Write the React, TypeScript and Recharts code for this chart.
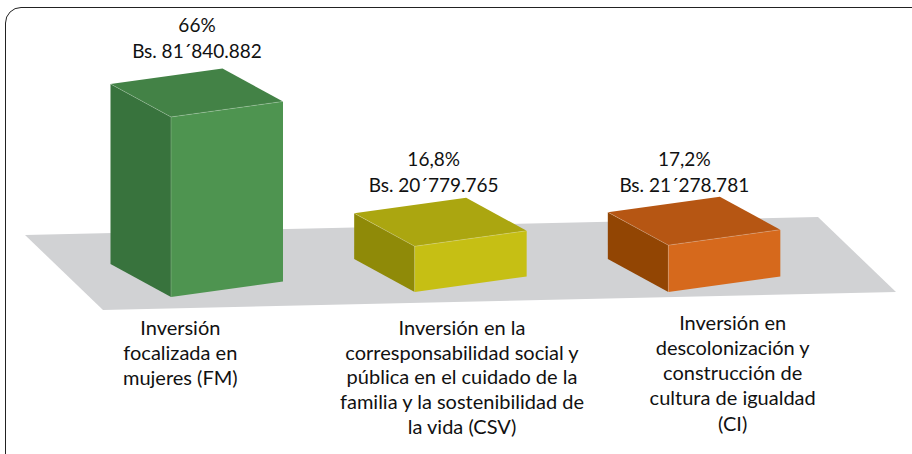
import React from 'react';
import { BarChart, Bar, XAxis, YAxis, LabelList, Cell } from 'recharts';

// values
const categories = ['FM', 'CSV', 'CI'];
const amounts = [81840882, 20779765, 21278781];
const percentLabels = ['66%', '16,8%', '17,2%'];
const amountLabels = ['Bs. 81´840.882', 'Bs. 20´779.765', 'Bs. 21´278.781'];
const categoryLines = [
  ['Inversión', 'focalizada en', 'mujeres (FM)'],
  ['Inversión en la', 'corresponsabilidad social y', 'pública en el cuidado de la', 'familia y la sostenibilidad de', 'la vida (CSV)'],
  ['Inversión en', 'descolonización y', 'construcción de', 'cultura de igualdad', '(CI)'],
];

const chartData = categories.map((name, i) => ({ name, amount: amounts[i] }));

// face colours per bar
const frontColors = ['#4E9450', '#C6BF14', '#D6691C'];
const sideColors = ['#38733D', '#8F8A08', '#924503'];
const topColors = ['#438246', '#ABA610', '#B65613'];

// the picture is a hand placed 3D drawing, these shift things off the even band layout
const barShiftX = [0, -5, 0];
const barShiftY = [0, -5, -5];
const labelShiftX = [-30, -42, -40];
const labelShiftY = [-65, -60.5, -59.5];
const tickShiftX = [-47, -14, 8];
const tickStartY = [328.5, 329, 323.5];
const tickStep = [25, 24.7, 25.3];

const FONT = 'Lato, sans-serif';

const Box3D = (props: any) => {
  const { x, y, width, height, index } = props;
  const fx = x + barShiftX[index];
  const fy = y + barShiftY[index];
  const rx = fx + width;
  const rise = 15.5;
  const backX = 60.5;
  const backY = 33;
  const top = `${fx},${fy} ${rx},${fy - rise} ${rx - backX},${fy - rise - backY} ${fx - backX},${fy - backY}`;
  const side = `${fx},${fy} ${fx},${fy + height} ${fx - backX},${fy + height - backY} ${fx - backX},${fy - backY}`;
  const front = `${fx},${fy} ${rx},${fy - rise} ${rx},${fy + height - rise} ${fx},${fy + height}`;
  return (
    <g>
      <polygon points={side} fill={sideColors[index]} />
      <polygon points={top} fill={topColors[index]} />
      <polygon points={front} fill={frontColors[index]} />
      <polyline points={`${fx - backX},${fy - backY} ${fx},${fy} ${rx},${fy - rise}`} fill="none" stroke="#ffffff" strokeOpacity={0.3} strokeWidth={0.7} />
      <line x1={fx} y1={fy} x2={fx} y2={fy + height} stroke="#ffffff" strokeOpacity={0.3} strokeWidth={0.7} />
    </g>
  );
};

const ValueLabel = (props: any) => {
  const { x, y, width, index } = props;
  const cx = x + width / 2 + labelShiftX[index];
  const cy = y + barShiftY[index] + labelShiftY[index];
  return (
    <text x={cx} textAnchor="middle" fontFamily={FONT} fontSize={19} fill="#111111">
      <tspan x={cx} y={cy - 26 + 6}>{percentLabels[index]}</tspan>
      <tspan x={cx} y={cy + 6}>{amountLabels[index]}</tspan>
    </text>
  );
};

const CategoryTick = (props: any) => {
  const { x, index } = props;
  const cx = x + tickShiftX[index];
  return (
    <text textAnchor="middle" fontFamily={FONT} fontSize={20} fill="#111111">
      {categoryLines[index].map((line, i) => (
        <tspan key={line} x={cx} y={tickStartY[index] + 6 + i * tickStep[index]}>{line}</tspan>
      ))}
    </text>
  );
};

export default function App() {
  return (
    <div style={{ position: 'absolute', left: 0, top: 0, width: 912, height: 454, overflow: 'hidden', background: '#fff' }}>
      {/* frame runs past the right and bottom edge of the picture */}
      <div style={{ position: 'absolute', left: 5, top: 7, width: 925, height: 470, border: '1.5px solid #222', borderRadius: 16, boxSizing: 'border-box' }} />
      <BarChart
        width={912}
        height={454}
        data={chartData}
        margin={{ top: 11, right: 63, bottom: 127, left: 103 }}
        style={{ position: 'absolute', left: 0, top: 0 }}
      >
        <polygon points="25,235 103,310 896,292 818,217" fill="#D1D2D4" />
        <XAxis dataKey="name" axisLine={false} tickLine={false} tick={<CategoryTick />} interval={0} />
        <YAxis hide domain={[0, 130000000]} />
        <Bar dataKey="amount" barSize={112} shape={<Box3D />} isAnimationActive={false}>
          {chartData.map((d, i) => (
            <Cell key={d.name} fill={frontColors[i]} />
          ))}
          <LabelList dataKey="amount" content={<ValueLabel />} />
        </Bar>
      </BarChart>
    </div>
  );
}
